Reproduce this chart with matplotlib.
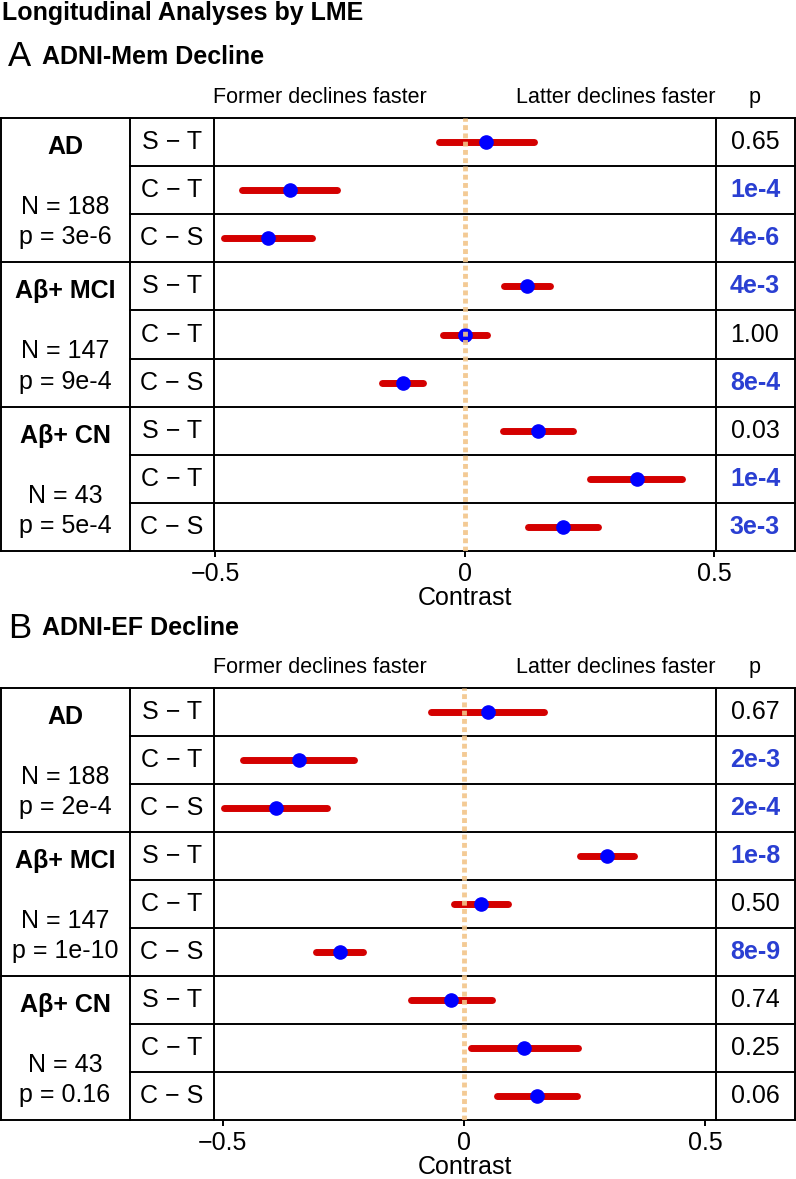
import numpy as np
import matplotlib
matplotlib.use('Agg')
import matplotlib.pyplot as plt
from matplotlib.transforms import blended_transform_factory

plt.rcParams['font.family'] = ['Liberation Sans', 'DejaVu Sans']

# data
groups = ['AD', 'Aβ+ MCI', 'Aβ+ CN']
group_n = [188, 147, 43]
contrasts = ['S − T', 'C − T', 'C − S']

# panel A: ADNI-Mem decline
mem_est = [0.044, -0.349, -0.393, 0.126, 0.000, -0.123, 0.148, 0.345, 0.197]
mem_lo = [-0.052, -0.445, -0.481, 0.080, -0.044, -0.165, 0.077, 0.252, 0.128]
mem_hi = [0.139, -0.255, -0.305, 0.172, 0.046, -0.084, 0.218, 0.436, 0.267]
mem_p = ['0.65', '1e-4', '4e-6', '4e-3', '1.00', '8e-4', '0.03', '1e-4', '3e-3']
mem_group_p = ['3e-6', '9e-4', '5e-4']

# panel B: ADNI-EF decline
ef_est = [0.049, -0.342, -0.390, 0.297, 0.036, -0.258, -0.027, 0.124, 0.151]
ef_lo = [-0.068, -0.457, -0.497, 0.240, -0.020, -0.307, -0.110, 0.015, 0.069]
ef_hi = [0.166, -0.228, -0.283, 0.352, 0.092, -0.209, 0.057, 0.237, 0.235]
ef_p = ['0.67', '2e-3', '2e-4', '1e-8', '0.50', '8e-9', '0.74', '0.25', '0.06']
ef_group_p = ['2e-4', '1e-10', '0.16']

W, H = 796, 1179
fig = plt.figure(figsize=(W / 100, H / 100), dpi=100)


def fx(px):
    return px / W


def fy(py):
    return 1 - py / H


RED = '#d40000'
BLUE = '#0000ff'
PBLUE = '#2a3fd2'
ZERO = '#f2c58a'
LW = 1.4

fig.text(fx(2), fy(13), 'Longitudinal Analyses by LME', fontsize=18,
         fontweight='bold', va='center', ha='left')


def panel(letter, name, est, lo, hi, pvals, group_p, top, bottom, xlim, ytitle):
    fig.text(fx(8), fy(ytitle), letter, fontsize=25, va='center', ha='left')
    fig.text(fx(42), fy(ytitle), name, fontsize=18, fontweight='bold',
             va='center', ha='left')

    ax = fig.add_axes([fx(214), fy(bottom), fx(716) - fx(214), (bottom - top) / H])
    ax.set_xlim(*xlim)
    ax.set_ylim(9, 0)
    ax.set_yticks([])
    ax.set_xticks([-0.5, 0, 0.5])
    ax.set_xticklabels(['−0.5', '0', '0.5'], fontsize=18)
    ax.tick_params(axis='x', length=4, width=LW, pad=4)
    ax.set_xlabel('Contrast', fontsize=18, labelpad=0)
    for s in ax.spines.values():
        s.set_linewidth(LW)

    for k in range(1, 9):
        ax.axhline(k, color='black', lw=LW)

    y = np.arange(9) + 0.5
    for i in range(9):
        ax.plot([lo[i], hi[i]], [y[i], y[i]], color=RED, lw=5,
                solid_capstyle='round', zorder=3)
    ax.plot(est, y, 'o', color=BLUE, ms=9.5, zorder=4)
    ax.axvline(0, color=ZERO, lw=3.5, ls=(0, (1, 0.7)), zorder=5, alpha=0.9)

    trans = blended_transform_factory(fig.transFigure, ax.transData)

    # table frame outside the plot area
    for k in range(10):
        x0 = 1 if k % 3 == 0 else 130
        ax.plot([fx(x0), fx(214)], [k, k], color='black', lw=LW,
                transform=trans, clip_on=False)
        ax.plot([fx(716), fx(795)], [k, k], color='black', lw=LW,
                transform=trans, clip_on=False)
    for xv in [1, 130, 794.5]:
        ax.plot([fx(xv), fx(xv)], [0, 9], color='black', lw=LW,
                transform=trans, clip_on=False)

    # headers
    ax.text(fx(213), -0.42, 'Former declines faster', transform=trans,
            fontsize=15.5, ha='left', va='center')
    ax.text(fx(715), -0.42, 'Latter declines faster', transform=trans,
            fontsize=15.5, ha='right', va='center')
    ax.text(fx(755), -0.42, 'p', transform=trans, fontsize=15.5,
            ha='center', va='center')

    for g in range(3):
        ax.text(fx(65), 3 * g + 0.6, groups[g], transform=trans, fontsize=18,
                fontweight='bold', ha='center', va='center')
        ax.text(fx(65), 3 * g + 1.85, 'N = %d' % group_n[g], transform=trans,
                fontsize=18, ha='center', va='center')
        ax.text(fx(65), 3 * g + 2.48, 'p = ' + group_p[g], transform=trans,
                fontsize=18, ha='center', va='center')

    for i in range(9):
        ax.text(fx(172), y[i], contrasts[i % 3], transform=trans, fontsize=18,
                ha='center', va='center')
        sig = float(pvals[i]) < 0.01
        ax.text(fx(755), y[i], pvals[i], transform=trans, fontsize=18,
                ha='center', va='center',
                color=PBLUE if sig else 'black',
                fontweight='bold' if sig else 'normal')
    return ax


panel('A', 'ADNI-Mem Decline', mem_est, mem_lo, mem_hi, mem_p, mem_group_p,
      118, 551, (-0.502, 0.504), 57)
panel('B', 'ADNI-EF Decline', ef_est, ef_lo, ef_hi, ef_p, ef_group_p,
      688, 1120, (-0.518, 0.522), 628)

fig.savefig('out.png', dpi=100)
